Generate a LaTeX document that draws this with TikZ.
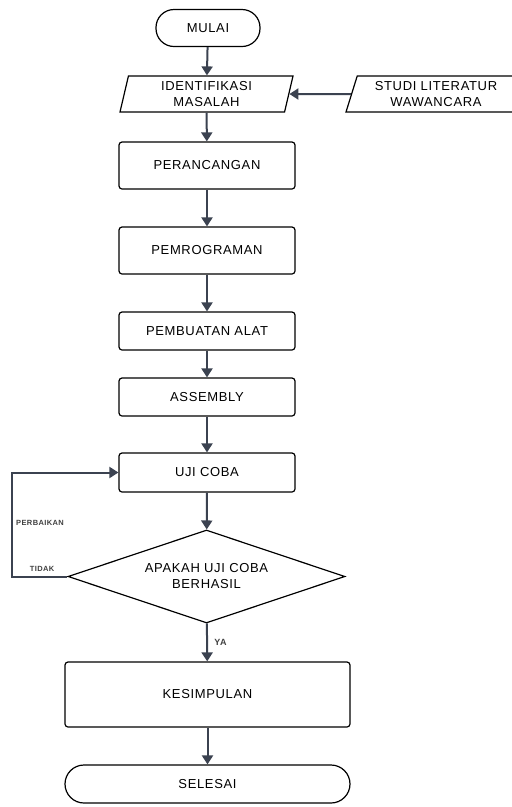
\documentclass[tikz,border=0pt]{standalone}
\usepackage{fontspec}
\setmainfont{Liberation Sans}[LetterSpace=5]
\usetikzlibrary{shapes.geometric,arrows.meta,positioning}
\definecolor{garis}{HTML}{3B4250}

\begin{document}
\begin{tikzpicture}[
	x=1pt, y=-1pt,
	every node/.style = {font=\fontsize{13}{16}\selectfont, align=center, text=black},
	proses/.style = {draw, rectangle, rounded corners=3pt, line width=1.2pt, inner sep=0pt},
	terminal/.style = {draw, rectangle, line width=1.2pt, inner sep=0pt},
	masukan/.style = {draw, trapezium, trapezium left angle=71.5, trapezium right angle=108.5,
		trapezium stretches body, line width=1.2pt, inner sep=0pt,
		minimum width=173pt, minimum height=36pt},
	keputusan/.style = {draw, diamond, aspect=3, line width=1.2pt, inner sep=0pt,
		minimum width=277pt, minimum height=93pt},
	panah/.style = {draw=garis, line width=2pt, -{Triangle[width=11pt,length=9pt]}},
	kecil/.style = {font=\fontsize{7.5}{9}\selectfont\bfseries, text=black!75}]
	\useasboundingbox (0,0) rectangle (512,807);
	\node[terminal, rounded corners=18pt, minimum width=104pt, minimum height=37pt] (mulai) at (208,28) {MULAI};
	\node[masukan] (identifikasi) at (206.5,94) {IDENTIFIKASI\\MASALAH};
	\node[masukan, trapezium left angle=66, trapezium right angle=114, minimum width=180pt] (studi) at (436,94) {STUDI LITERATUR\\WAWANCARA};
	\node[proses, minimum width=176pt, minimum height=47pt] (perancangan) at (207,165.5) {PERANCANGAN};
	\node[proses, minimum width=176pt, minimum height=47pt] (pemrograman) at (207,250.5) {PEMROGRAMAN};
	\node[proses, minimum width=176pt, minimum height=38pt] (pembuatan) at (207,331) {PEMBUATAN ALAT};
	\node[proses, minimum width=176pt, minimum height=38pt] (assembly) at (207,397) {ASSEMBLY};
	\node[proses, minimum width=176pt, minimum height=39pt] (ujicoba) at (207,472.5) {UJI COBA};
	\node[keputusan] (cek) at (206.5,576.5) {APAKAH UJI COBA\\BERHASIL};
	\node[proses, minimum width=285pt, minimum height=65pt] (kesimpulan) at (207.5,694.5) {KESIMPULAN};
	\node[terminal, rounded corners=19pt, minimum width=285pt, minimum height=38pt] (selesai) at (207.5,784) {SELESAI};

	\draw[panah] (mulai) -- (identifikasi);
	\draw[panah] (studi) -- (identifikasi);
	\draw[panah] (identifikasi) -- (perancangan);
	\draw[panah] (perancangan) -- (pemrograman);
	\draw[panah] (pemrograman) -- (pembuatan);
	\draw[panah] (pembuatan) -- (assembly);
	\draw[panah] (assembly) -- (ujicoba);
	\draw[panah] (ujicoba) -- (cek);
	\draw[panah] (cek.west) -- ++(-55,0) coordinate (belok) |- (ujicoba.west);
	\draw[panah] (cek) -- node[kecil, right=3pt, font=\fontsize{9}{11}\selectfont\bfseries] (ya) {YA} (kesimpulan);
	\draw[panah] (kesimpulan) -- (selesai);
	\node[kecil] (perbaikan) at (40,523) {PERBAIKAN};
	\node[kecil, above right=1pt and 14pt of belok] (tidak) {TIDAK};
\end{tikzpicture}
\end{document}
